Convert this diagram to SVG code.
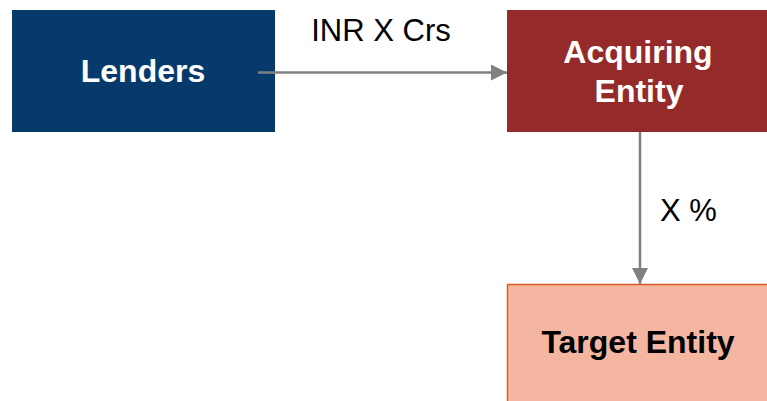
<svg xmlns="http://www.w3.org/2000/svg" width="767" height="401" viewBox="0 0 767 401">
<style>
.lbl{font-family:"Liberation Sans",Arial,sans-serif;font-size:31px;fill:#000}
.nt{font-family:"Liberation Sans",Arial,sans-serif;font-weight:bold;font-size:32px;text-anchor:middle}
.conn{stroke:#808080;stroke-width:2.5;fill:none}
</style>
<defs>
<marker id="ah" markerUnits="userSpaceOnUse" markerWidth="16" markerHeight="16" refX="15" refY="7.5" orient="auto" viewBox="0 0 15 15">
<path d="M0,0 L15,7.5 L0,15 Z" fill="#808080"/>
</marker>
</defs>
<rect width="767" height="401" fill="#fff"/>
<g id="lenders">
<rect x="12" y="10" width="263" height="122" fill="#063A6B"/>
<text class="nt" x="143" y="82" fill="#fff">Lenders</text>
</g>
<g id="acquiring">
<rect x="507" y="10" width="262" height="122" fill="#952A2A"/>
<text class="nt" x="638" y="63" fill="#fff">Acquiring</text>
<text class="nt" x="639" y="102" fill="#fff">Entity</text>
</g>
<g id="target">
<rect x="507.5" y="284.5" width="262" height="120" fill="#F4B6A0" stroke="#E05A22" stroke-width="1.5"/>
<text class="nt" x="638" y="353" fill="#000" font-size="31">Target Entity</text>
</g>
<g id="connectors">
<line class="conn" x1="258" y1="72.5" x2="507" y2="72.5" marker-end="url(#ah)"/>
<line class="conn" x1="640" y1="132" x2="640" y2="284" marker-end="url(#ah)"/>
<text class="lbl" x="381" y="41" text-anchor="middle">INR X Crs</text>
<text class="lbl" x="660" y="221">X %</text>
</g>
</svg>
